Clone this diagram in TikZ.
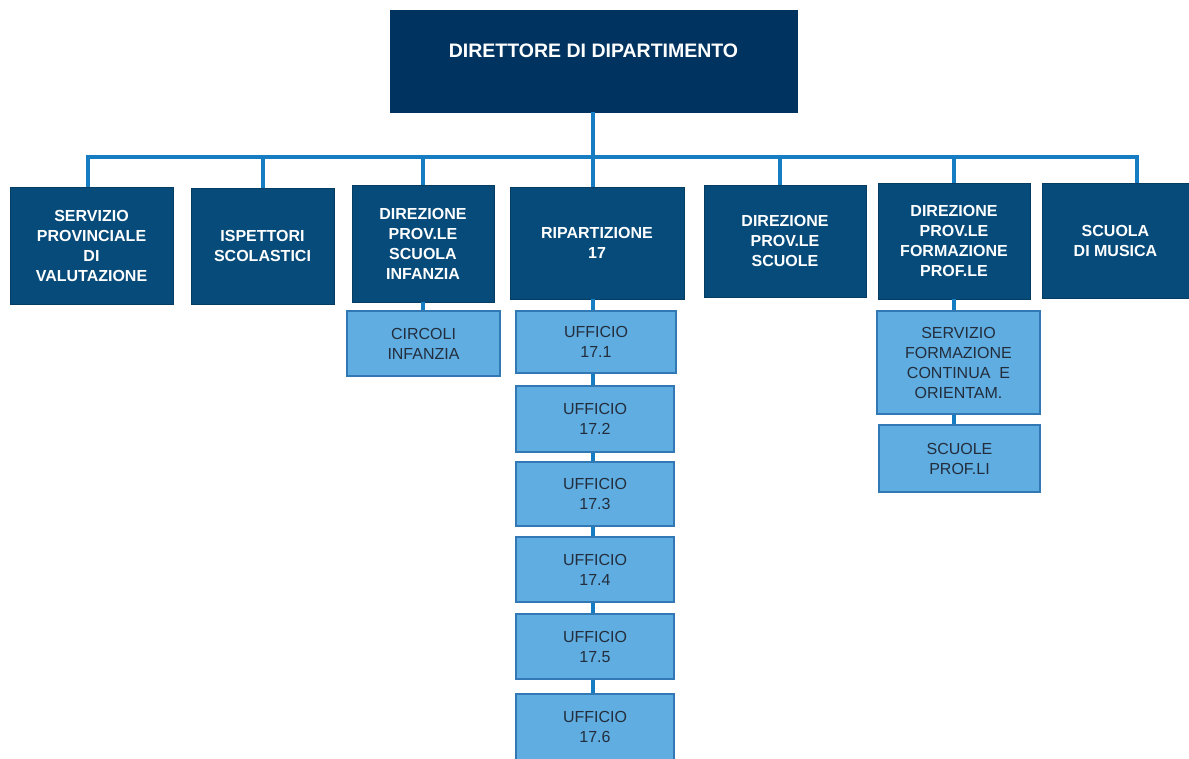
\documentclass[tikz,border=0pt]{standalone}
\usepackage{fontspec}
\setmainfont{Liberation Sans}
\definecolor{topblue}{RGB}{0,51,95}
\definecolor{darkbox}{RGB}{6,75,122}
\definecolor{lightbox}{RGB}{95,173,225}
\definecolor{lightedge}{RGB}{50,120,180}
\definecolor{connblue}{RGB}{22,125,195}
\definecolor{lighttext}{RGB}{35,45,60}
\begin{document}
\begin{tikzpicture}[x=1pt,y=-1pt,
  topbox/.style={rectangle, fill=topblue, draw=topblue, text=white, inner sep=0pt,
    font=\fontsize{19.5}{23}\selectfont\bfseries, align=center},
  darkbox/.style={rectangle, fill=darkbox, draw=darkbox!80!black, line width=0.6pt, text=white, inner sep=0pt,
    font=\fontsize{16}{20}\selectfont\bfseries, align=center},
  lightbox/.style={rectangle, fill=lightbox, draw=lightedge, line width=1.2pt, text=lighttext, inner sep=0pt,
    font=\fontsize{16}{20}\selectfont, align=center},
  conn/.style={draw=connblue, line width=4pt}]
\useasboundingbox (0,0) rectangle (1189,758);
\fill[white] (0,0) rectangle (1189,758);

% top
\node[topbox, minimum width=407pt, minimum height=102pt] (top) at (593.5,61) {\raisebox{20pt}{DIRETTORE DI DIPARTIMENTO}};

% level 2
\node[darkbox, minimum width=163pt, minimum height=117pt] (serv) at (91.5,245.5) {SERVIZIO\\PROVINCIALE\\DI\\VALUTAZIONE};
\node[darkbox, minimum width=143pt, minimum height=116pt] (isp) at (262.5,246) {ISPETTORI\\SCOLASTICI};
\node[darkbox, minimum width=142pt, minimum height=117pt] (inf) at (423,243.5) {DIREZIONE\\PROV.LE\\SCUOLA\\INFANZIA};
\node[darkbox, minimum width=174pt, minimum height=112pt] (rip) at (597,243) {RIPARTIZIONE\\17};
\node[darkbox, minimum width=162pt, minimum height=112pt] (dsc) at (785,241) {DIREZIONE\\PROV.LE\\SCUOLE};
\node[darkbox, minimum width=152pt, minimum height=116pt] (form) at (954,241) {DIREZIONE\\PROV.LE\\FORMAZIONE\\PROF.LE};
\node[darkbox, minimum width=147pt, minimum height=115pt] (mus) at (1115.5,240.5) {SCUOLA\\DI MUSICA};

% level 3
\node[lightbox, minimum width=153pt, minimum height=65pt] (circ) at (423.5,343.5) {CIRCOLI\\INFANZIA};
\node[lightbox, minimum width=160pt, minimum height=62pt] (u1) at (596,342) {UFFICIO\\17.1};
\node[lightbox, minimum width=158pt, minimum height=66pt] (u2) at (595,419) {UFFICIO\\17.2};
\node[lightbox, minimum width=158pt, minimum height=64pt] (u3) at (595,494) {UFFICIO\\17.3};
\node[lightbox, minimum width=158pt, minimum height=65pt] (u4) at (595,569.5) {UFFICIO\\17.4};
\node[lightbox, minimum width=158pt, minimum height=65pt] (u5) at (595,646.5) {UFFICIO\\17.5};
\node[lightbox, minimum width=158pt, minimum height=66pt] (u6) at (595,727) {UFFICIO\\17.6};
\node[lightbox, minimum width=163pt, minimum height=103pt] (sfc) at (958.5,362.5) {SERVIZIO\\FORMAZIONE\\CONTINUA\ \ E\\ORIENTAM.};
\node[lightbox, minimum width=161pt, minimum height=67pt] (sp) at (959.5,458.5) {SCUOLE\\PROF.LI};

% connectors
\coordinate (bus) at (0,157);
\coordinate (ripstem) at ([xshift=-4pt]rip.north);
\coordinate (musstem) at ([xshift=21.5pt]mus.north);
\coordinate (servstem) at ([xshift=-3.5pt]serv.north);
\coordinate (dscstem) at ([xshift=-5pt]dsc.north);
\draw[conn] (top.south -| ripstem) -- (ripstem);
\draw[conn] (servstem) -- (servstem |- bus) -- (musstem |- bus) -- (musstem);
\draw[conn] (isp.north) -- (isp.north |- bus);
\draw[conn] (inf.north) -- (inf.north |- bus);
\draw[conn] (dscstem) -- (dscstem |- bus);
\draw[conn] (form.north) -- (form.north |- bus);
\draw[conn] (inf.south) -- (inf.south |- circ.north);
\draw[conn] (rip.south -| ripstem) -- (u1.north -| ripstem);
\draw[conn] (u1.south -| ripstem) -- (u2.north -| ripstem);
\draw[conn] (u2.south -| ripstem) -- (u3.north -| ripstem);
\draw[conn] (u3.south -| ripstem) -- (u4.north -| ripstem);
\draw[conn] (u4.south -| ripstem) -- (u5.north -| ripstem);
\draw[conn] (u5.south -| ripstem) -- (u6.north -| ripstem);
\draw[conn] (form.south) -- (form.south |- sfc.north);
\draw[conn] (sfc.south -| form.south) -- (sp.north -| form.south);
\end{tikzpicture}
\end{document}
